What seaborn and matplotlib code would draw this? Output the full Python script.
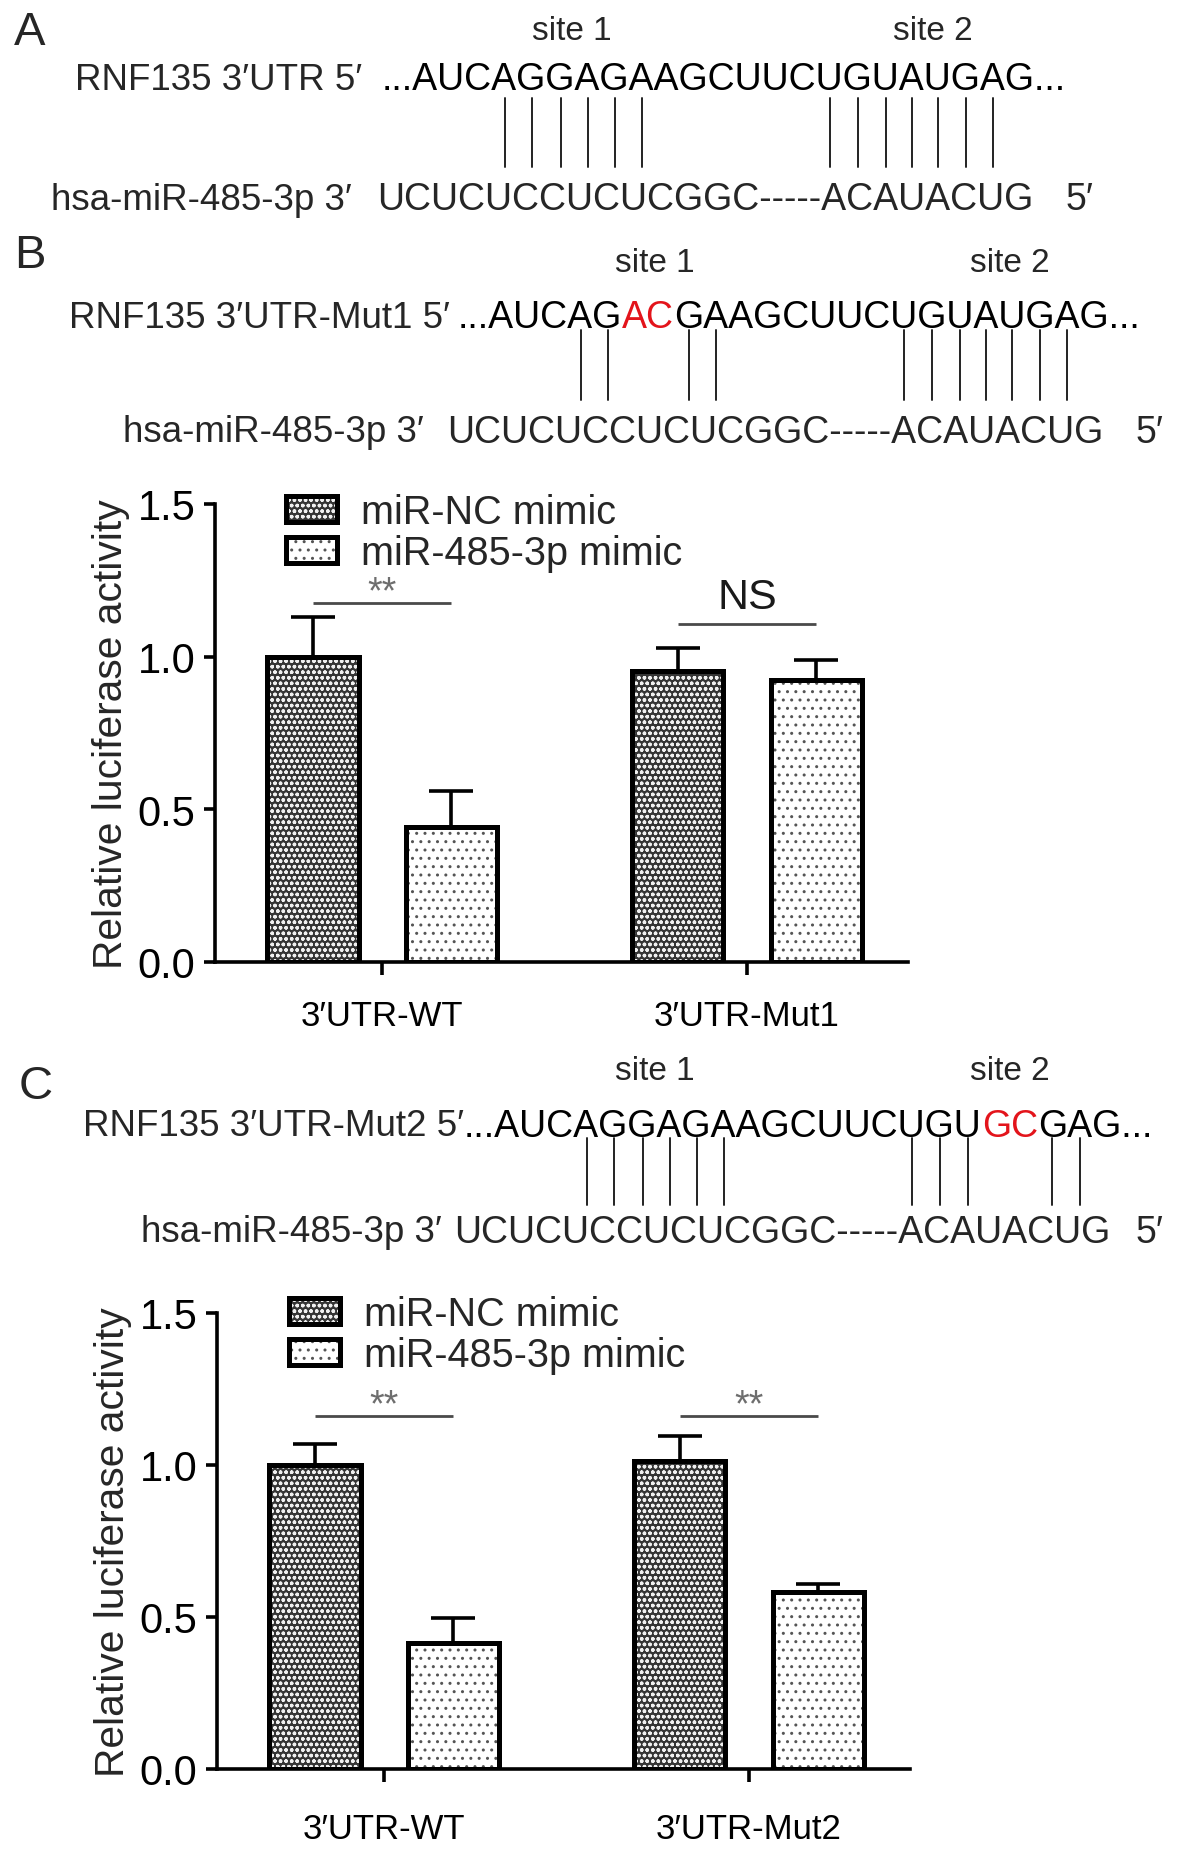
import numpy as np
import pandas as pd
import seaborn as sns
import matplotlib
matplotlib.use("Agg")
import matplotlib.pyplot as plt
from matplotlib.lines import Line2D
from matplotlib.patches import Patch
from matplotlib.legend_handler import HandlerTuple
from matplotlib.font_manager import FontProperties

sns.set_style("ticks")
FAMILY = ["Liberation Sans", "DejaVu Sans"]
plt.rcParams["font.family"] = FAMILY
plt.rcParams["hatch.linewidth"] = 1.0

# ---------------- data ----------------
treatments = ["miR-NC mimic", "miR-485-3p mimic"]

groups_B = ["3′UTR-WT", "3′UTR-Mut1"]
nc_B = [1.00, 0.952]
nc_B_sem = [0.131, 0.078]
mim_B = [0.441, 0.925]
mim_B_sem = [0.118, 0.063]
sig_B = ["**", "NS"]
sig_y_B = [1.177, 1.106]

groups_C = ["3′UTR-WT", "3′UTR-Mut2"]
nc_C = [1.00, 1.012]
nc_C_sem = [0.069, 0.084]
mim_C = [0.416, 0.581]
mim_C_sem = [0.080, 0.029]
sig_C = ["**", "**"]
sig_y_C = [1.161, 1.161]

yticks = [0.0, 0.5, 1.0, 1.5]

RED = "#e3141b"
name_A_top = "RNF135 3′UTR 5′"
name_B_top = "RNF135 3′UTR-Mut1 5′"
name_C_top = "RNF135 3′UTR-Mut2 5′"
name_mirna = "hsa-miR-485-3p 3′"
seq_A_top = [("...AUCAGGAGAAGCUUCUGUAUGAG...", "black")]
seq_B_top = [("...AUCAG", "black"), ("AC", RED), ("GAAGCUUCUGUAUGAG...", "black")]
seq_C_top = [("...AUCAGGAGAAGCUUCUGU", "black"), ("GC", RED), ("GAG...", "black")]
seq_mirna = "UCUCUCCUCUCGGC-----ACAUACUG"
pairs_A = [6, 7, 8, 9, 10, 11, 18, 19, 20, 21, 22, 23, 24]
pairs_B = [6, 7, 10, 11, 18, 19, 20, 21, 22, 23, 24]
pairs_C = [6, 7, 8, 9, 10, 11, 18, 19, 20, 23, 24]

# ---------------- figure ----------------
W, H = 1181, 1856
fig = plt.figure(figsize=(W / 100, H / 100), dpi=100)
renderer = fig.canvas.get_renderer()


def fx(px):
    return px / W


def fy(py):
    return 1 - py / H


SEQ_SIZE = 27
NAME_SIZE = 26.5
SITE_SIZE = 24
LETTER_SIZE = 34


def text_w(s, size):
    fp = FontProperties(family=FAMILY, size=size)
    w, h, d = renderer.get_text_width_height_descent(s, fp, ismath=False)
    return w


def draw_segments(x0, y, segments, size):
    x = x0
    for s, c in segments:
        fig.text(fx(x), fy(y), s, color=c, fontsize=size, ha="left", va="center")
        x += text_w(s, size)
    return x


def draw_diagram(letter, letter_xy, sites_x, site_y, top_name, top_name_right, top_seq,
                 top_x, top_y, pairs, line_y, bot_name_right, bot_x, bot_y, five_x):
    fig.text(fx(letter_xy[0]), fy(letter_xy[1]), letter, fontsize=LETTER_SIZE,
             ha="left", va="center")
    for i, sx in enumerate(sites_x):
        fig.text(fx(sx), fy(site_y), f"site {i + 1}", fontsize=SITE_SIZE,
                 ha="center", va="center")
    fig.text(fx(top_name_right), fy(top_y), top_name, fontsize=NAME_SIZE,
             ha="right", va="center")
    draw_segments(top_x, top_y, top_seq, SEQ_SIZE)
    full = "".join(s for s, _ in top_seq)
    for idx in pairs:
        xc = top_x + (text_w(full[:idx], SEQ_SIZE) + text_w(full[:idx + 1], SEQ_SIZE)) / 2
        fig.add_artist(Line2D([fx(xc), fx(xc)], [fy(line_y[0]), fy(line_y[1])],
                              transform=fig.transFigure, color="#222222", lw=1.4))
    fig.text(fx(bot_name_right), fy(bot_y), name_mirna, fontsize=NAME_SIZE,
             ha="right", va="center")
    fig.text(fx(bot_x), fy(bot_y), seq_mirna, fontsize=SEQ_SIZE, ha="left", va="center")
    fig.text(fx(five_x), fy(bot_y), "5′", fontsize=SEQ_SIZE, ha="left", va="center")


# Panel A
draw_diagram("A", (14, 33), [572, 933], 31, name_A_top, 362, seq_A_top, 382, 80,
             pairs_A, (99, 168), 352, 377, 200, 1066)
# Panel B
draw_diagram("B", (14, 256), [655, 1010], 263, name_B_top, 450, seq_B_top, 458, 318,
             pairs_B, (331, 401), 424, 447, 433, 1136)
# Panel C
draw_diagram("C", (19, 1087), [655, 1010], 1072, name_C_top, 464, seq_C_top, 464, 1127,
             pairs_C, (1139, 1206), 442, 454, 1233, 1136)

fills = {treatments[0]: "#353535", treatments[1]: "#ffffff"}
hatches = {treatments[0]: "ooo", treatments[1]: ".."}
hatch_cols = {treatments[0]: "#f0f0f0", treatments[1]: "#555555"}
BAR_LW = 3.6
AX_LW = 2.6


def bar_panel(rect, groups, nc, nc_sem, mim, mim_sem, sig_labels, sig_y, legend_xy, xpad):
    ax = fig.add_axes(rect)
    df = pd.DataFrame({
        "construct": groups * 2,
        "treatment": [treatments[0]] * len(groups) + [treatments[1]] * len(groups),
        "value": nc + mim,
        "sem": nc_sem + mim_sem,
    })
    sns.barplot(data=df, x="construct", y="value", hue="treatment", order=groups,
                hue_order=treatments, palette=fills, width=0.76, gap=0.34,
                errorbar=None, saturation=1, linewidth=0, legend=False, ax=ax)
    centers = {}
    for p in list(ax.patches):
        t = treatments[0] if p.get_facecolor()[0] < 0.5 else treatments[1]
        p.set_hatch(hatches[t])
        p.set_edgecolor(hatch_cols[t])
        p.set_linewidth(0)
        xc = p.get_x() + p.get_width() / 2
        centers[(groups[int(round(xc))], t)] = xc
    sns.barplot(data=df, x="construct", y="value", hue="treatment", order=groups,
                hue_order=treatments, palette={t: "black" for t in treatments},
                width=0.76, gap=0.34, errorbar=None, fill=False, linewidth=BAR_LW,
                legend=False, ax=ax)
    for p in ax.patches:
        p.set_joinstyle("miter")

    xs = [centers[(row.construct, row.treatment)] for row in df.itertuples()]
    ax.errorbar(xs, df["value"], yerr=[np.zeros(len(df)), df["sem"]], fmt="none",
                ecolor="black", elinewidth=2.6, capsize=16, capthick=2.6, zorder=3)

    for g, lab, yv in zip(groups, sig_labels, sig_y):
        x0, x1 = centers[(g, treatments[0])], centers[(g, treatments[1])]
        ax.plot([x0, x1], [yv, yv], color="#4a4a4a", lw=2.0, solid_capstyle="butt")
        if lab == "NS":
            ax.text((x0 + x1) / 2, yv + 0.09, lab, fontsize=31, ha="center",
                    va="center", color="#1a1a1a")
        else:
            ax.text((x0 + x1) / 2, yv + 0.035, lab, fontsize=27, ha="center",
                    va="center", color="#6e6e6e")

    ax.set_ylim(0, 1.5)
    ax.set_xlim(-0.458, 1.441)
    ax.set_yticks(yticks)
    ax.set_yticklabels([f"{v:.1f}" for v in yticks])
    sns.despine(ax=ax)
    for s in ["left", "bottom"]:
        ax.spines[s].set_linewidth(AX_LW)
        ax.spines[s].set_color("black")
    ax.tick_params(axis="y", width=AX_LW, length=8, labelsize=30, pad=6, colors="black")
    ax.tick_params(axis="x", width=AX_LW, length=9, labelsize=25, pad=xpad, colors="black")
    ax.set_xlabel("")
    ax.set_ylabel("Relative luciferase activity", fontsize=29.3)
    ax.yaxis.set_label_coords(-0.122, 0.5)

    handles = [(Patch(facecolor=fills[t], edgecolor=hatch_cols[t], hatch=hatches[t], linewidth=0),
                Patch(facecolor="none", edgecolor="black", linewidth=BAR_LW, joinstyle="round"))
               for t in treatments]
    ax.legend(handles, treatments, handler_map={tuple: HandlerTuple(ndivide=1, pad=0)},
              loc="upper left", bbox_to_anchor=(fx(legend_xy[0]), fy(legend_xy[1])),
              bbox_transform=fig.transFigure, frameon=False, fontsize=28.5,
              handlelength=1.3, handleheight=0.64, handletextpad=0.6,
              labelspacing=0.08, borderpad=0, borderaxespad=0)
    return ax


bar_panel([fx(215), fy(963), fx(908) - fx(215), (963 - 505) / H], groups_B,
          nc_B, nc_B_sem, mim_B, mim_B_sem, sig_B, sig_y_B, (286, 494), 18)
bar_panel([fx(217), fy(1770), fx(910) - fx(217), (1770 - 1314) / H], groups_C,
          nc_C, nc_C_sem, mim_C, mim_C_sem, sig_C, sig_y_C, (289, 1296), 22)

fig.savefig("out.png", dpi=100)
